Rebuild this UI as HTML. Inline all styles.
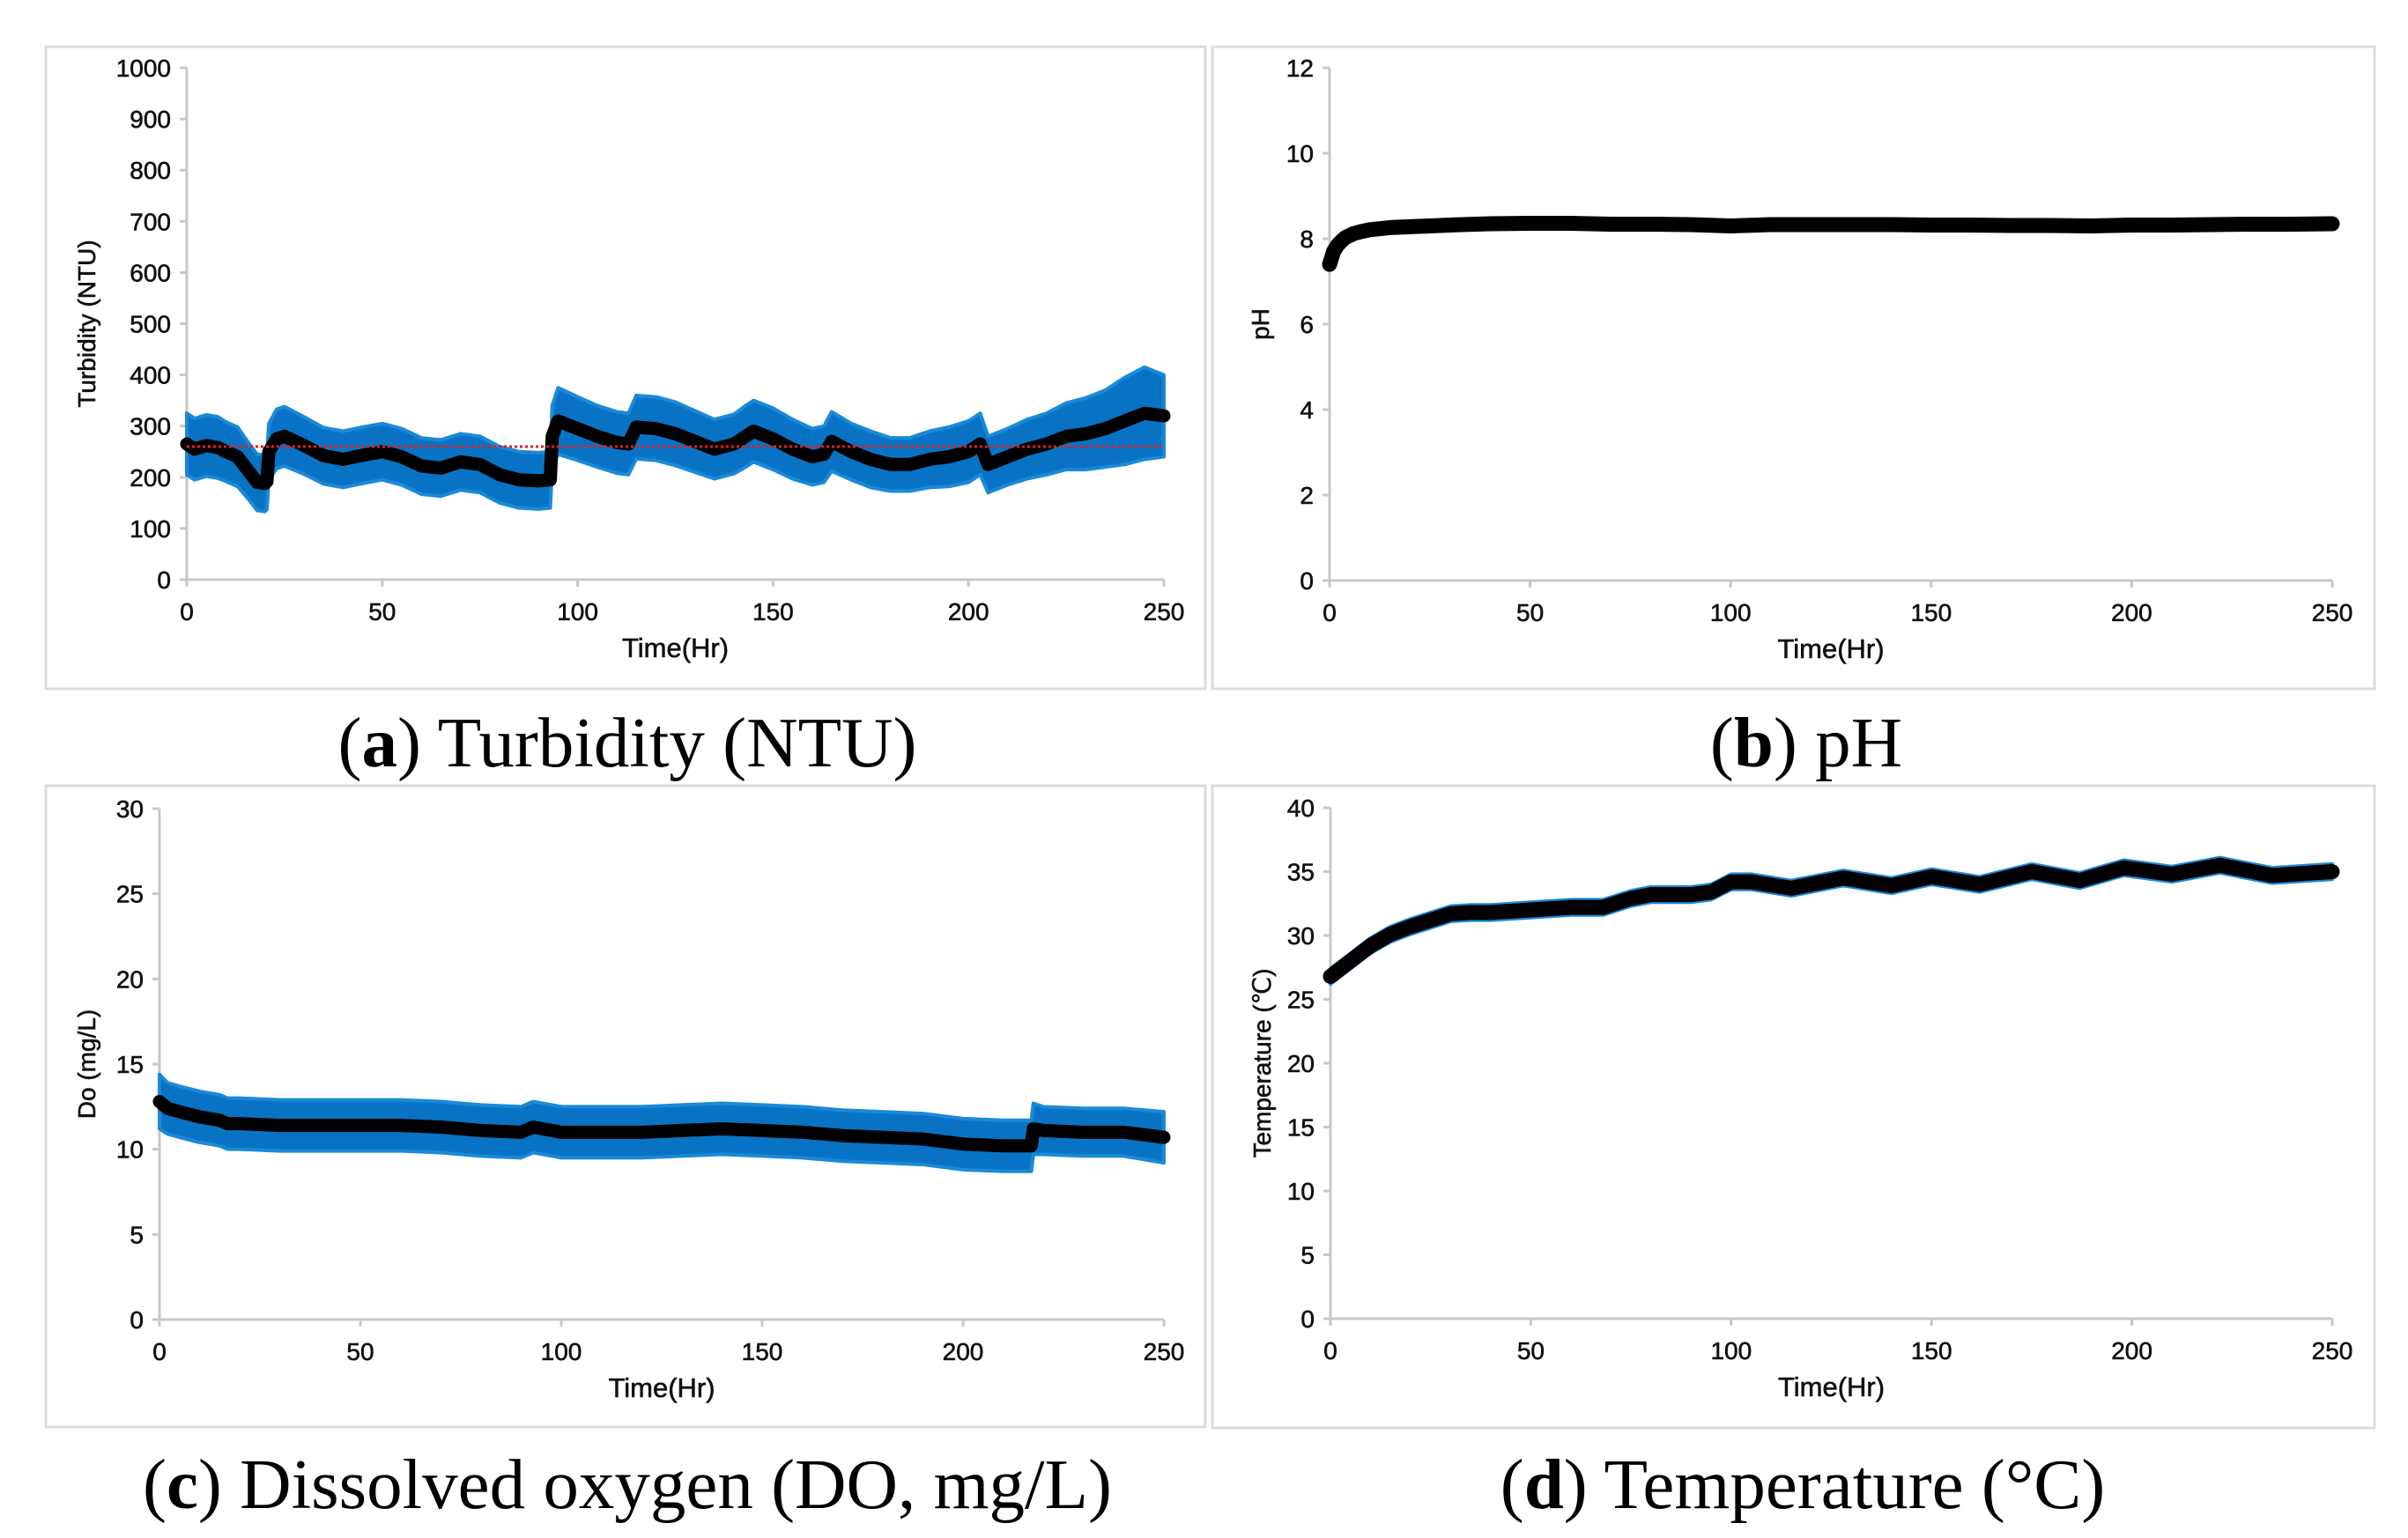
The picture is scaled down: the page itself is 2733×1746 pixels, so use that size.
<!DOCTYPE html>
<html><head><meta charset="utf-8">
<style>
html,body{margin:0;padding:0;background:#fff;}
body{width:2733px;height:1746px;overflow:hidden;position:relative;}
svg{position:absolute;left:0;top:0;}
</style></head>
<body>
<svg id="fig" width="2733" height="1746" viewBox="0 0 2733 1746" xmlns="http://www.w3.org/2000/svg"></svg>
<script>
// Turbidity
const turbT = [0,2,5,8,10,13,16,18,20,20.5,21,23,25,30,35,40,45,50,55,60,65,70,75,80,85,90,93,93.5,95,100,105,110,113,115,120,125,130,135,140,143,145,150,155,160,163,165,170,175,180,185,190,195,200,203,205,210,215,220,225,230,235,240,245,250];
const turbV = [265,255,262,258,250,240,210,190,188,192,250,275,280,262,242,235,243,250,240,222,218,230,225,205,195,193,195,280,310,295,280,268,265,298,295,285,270,255,265,280,290,275,255,240,245,270,250,235,225,225,235,240,250,265,225,240,255,265,280,285,295,310,325,320];
const turbE = [60,60,60,60,58,58,55,55,55,55,55,58,58,56,55,55,55,55,55,55,55,55,55,55,55,55,55,60,65,62,60,60,60,62,62,62,60,58,58,60,60,60,58,55,55,58,55,55,52,52,55,58,60,60,55,55,58,60,65,70,75,85,90,80];
const turbRef = [260];
const turbTicks = [0,100,200,300,400,500,600,700,800,900,1000];
// pH
const phT = [0,0.5,1,2,3,4,6,8,10,15,20,25,30,40,50,60,70,80,90,100,110,120,130,140,150,160,170,180,190,200,210,220,230,240,250];
const phV = [7.4,7.55,7.7,7.85,7.95,8.03,8.12,8.17,8.21,8.26,8.28,8.3,8.32,8.35,8.36,8.36,8.34,8.34,8.33,8.3,8.33,8.33,8.33,8.33,8.32,8.32,8.31,8.31,8.3,8.32,8.32,8.33,8.34,8.34,8.35];
const phTicks = [0,2,4,6,8,10,12];
// DO
const doT = [0,2,5,10,15,17,20,30,40,50,60,70,80,90,93,100,110,120,130,140,150,160,170,180,190,200,210,217,217.5,220,230,240,250];
const doV = [12.8,12.4,12.2,11.9,11.7,11.5,11.5,11.4,11.4,11.4,11.4,11.3,11.1,11.0,11.3,11.0,11.0,11.0,11.1,11.2,11.1,11.0,10.8,10.7,10.6,10.3,10.2,10.2,11.2,11.1,11.0,11.0,10.7];
const doE = [1.6,1.5,1.5,1.5,1.5,1.5,1.5,1.5,1.5,1.5,1.5,1.5,1.5,1.5,1.5,1.5,1.5,1.5,1.5,1.5,1.5,1.5,1.5,1.5,1.5,1.5,1.5,1.5,1.5,1.4,1.4,1.4,1.5];
const doTicks = [0,5,10,15,20,25,30];
// Temperature
const tmpT = [0,5,10,15,20,25,30,35,40,50,60,68,75,80,90,95,100,105,115,128,140,150,162,175,187,198,210,222,235,250];
const tmpV = [26.8,28.0,29.2,30.1,30.7,31.2,31.7,31.8,31.8,32.0,32.2,32.2,32.9,33.2,33.2,33.4,34.2,34.2,33.7,34.5,33.9,34.6,34.0,35.0,34.3,35.3,34.8,35.5,34.7,35.0];
const tmpE = [0.6,0.6,0.6,0.6,0.6,0.6,0.6,0.6,0.6,0.6,0.6,0.6,0.6,0.6,0.6,0.6,0.6,0.6,0.6,0.6,0.6,0.6,0.6,0.6,0.6,0.6,0.6,0.6,0.6,0.6];
const tmpTicks = [0,5,10,15,20,25,30,35,40];
const xTicks = [0,50,100,150,200,250];

const NS='http://www.w3.org/2000/svg';
const svg=document.getElementById('fig');
function mk(tag,attrs,parent){const e=document.createElementNS(NS,tag);for(const k in attrs)e.setAttribute(k,attrs[k]);(parent||svg).appendChild(e);return e;}

function panel(cfg){
  const g=mk('g',{});
  
  
  const fr=mk('rect',{x:cfg.fx,y:cfg.fy,width:cfg.fw,height:cfg.fh,fill:'#fff',stroke:'#dcdcdc','stroke-width':3},g);
  
  
  const X=v=>cfg.x0+(v-0)/(250-0)*(cfg.x1-cfg.x0);
  const Y=v=>cfg.y0-(v-cfg.ymin)/(cfg.ymax-cfg.ymin)*(cfg.y0-cfg.y1);
  const ya=mk('line',{x1:cfg.x0,y1:Y(cfg.ymax),x2:cfg.x0,y2:cfg.y0,stroke:'#c8c8c8','stroke-width':3},g);
  
  
  const xa=mk('line',{x1:cfg.x0,y1:cfg.y0,x2:cfg.x1,y2:cfg.y0,stroke:'#c8c8c8','stroke-width':3},g);
  
  
  cfg.yt.forEach(v=>{
    mk('line',{x1:cfg.x0-8,y1:Y(v),x2:cfg.x0,y2:Y(v),stroke:'#c8c8c8','stroke-width':3},g);
    const t=mk('text',{x:cfg.x0-18,y:Y(v)+10,'text-anchor':'end','font-family':'Liberation Sans Narrow, Liberation Sans, sans-serif','font-size':28,fill:'#111','stroke':'#111','stroke-width':0.6},g);
    t.textContent=v;
    
    
  });
  xTicks.forEach(v=>{
    mk('line',{x1:X(v),y1:cfg.y0,x2:X(v),y2:cfg.y0+8,stroke:'#c8c8c8','stroke-width':3},g);
    const t=mk('text',{x:X(v),y:cfg.y0+46,'text-anchor':'middle','font-family':'Liberation Sans Narrow, Liberation Sans, sans-serif','font-size':28,fill:'#111','stroke':'#111','stroke-width':0.6},g);
    t.textContent=v;
    
    
  });
  const xt=mk('text',{x:(cfg.x0+cfg.x1)/2,y:cfg.y0+88,'text-anchor':'middle','font-family':'Liberation Sans Narrow, Liberation Sans, sans-serif','font-size':31,fill:'#111','stroke':'#111','stroke-width':0.6},g);
  xt.textContent='Time(Hr)';
  
  
  const yc=(Y(cfg.ymax)+cfg.y0)/2;
  const ytl=mk('text',{x:cfg.ytx,y:yc,'text-anchor':'middle','font-family':'Liberation Sans, sans-serif','font-size':28,fill:'#111','stroke':'#111','stroke-width':0.6,transform:`rotate(-90 ${cfg.ytx} ${yc})`},g);
  ytl.textContent=cfg.ytitle;
  
  
  if(cfg.e){
    let up=cfg.t.map((t,i)=>X(t)+','+Y(cfg.v[i]+cfg.e[i]));
    let dn=cfg.t.map((t,i)=>X(t)+','+Y(cfg.v[i]-cfg.e[i])).reverse();
    const band=mk('polygon',{points:up.concat(dn).join(' '),fill:'#0873c4',stroke:'#1a8ad8','stroke-width':4,'stroke-linejoin':'round'},g);
    
    
  }
  const ln=mk('polyline',{points:cfg.t.map((t,i)=>X(t)+','+Y(cfg.v[i])).join(' '),fill:'none',stroke:'#000','stroke-width':cfg.sw||15,'stroke-linejoin':'round','stroke-linecap':'round'},g);
  
  
  if(cfg.ref){
    const r=mk('line',{x1:cfg.x0,y1:Y(cfg.ref[0]),x2:cfg.x1,y2:Y(cfg.ref[0]),stroke:'#e02020','stroke-width':3,'stroke-dasharray':'3 3'},g);
    
    
  }
  const cap=mk('text',{x:cfg.cx,y:cfg.cy,'text-anchor':'middle','font-family':'Liberation Serif, serif','font-size':81,fill:'#000'},g);
  cap.innerHTML=cfg.caption;
  
  
}

panel({name:'turbidity-panel',fx:52,fy:53,fw:1316,fh:729,x0:212,x1:1321,y0:658,y1:77,ymin:0,ymax:1000,yt:turbTicks,ytx:108,ytitle:'Turbidity (NTU)',t:turbT,v:turbV,e:turbE,ref:turbRef,cx:712,cy:870,caption:'(<tspan font-weight="bold">a</tspan>) Turbidity (NTU)'});
panel({name:'ph-panel',fx:1376,fy:53,fw:1319,fh:729,x0:1509,x1:2647,y0:659,y1:77,ymin:0,ymax:12,yt:phTicks,ytx:1440,ytitle:'pH',t:phT,v:phV,sw:17,cx:2050,cy:870,caption:'(<tspan font-weight="bold">b</tspan>) pH'});
panel({name:'do-panel',fx:52,fy:892,fw:1316,fh:728,x0:181,x1:1321,y0:1498,y1:918,ymin:0,ymax:30,yt:doTicks,ytx:108,ytitle:'Do (mg/L)',t:doT,v:doV,e:doE,cx:712,cy:1712,caption:'(<tspan font-weight="bold">c</tspan>) Dissolved oxygen (DO, mg/L)'});
panel({name:'temperature-panel',fx:1376,fy:892,fw:1319,fh:729,x0:1510,x1:2647,y0:1497,y1:917,ymin:0,ymax:40,yt:tmpTicks,ytx:1442,ytitle:'Temperature (℃)',t:tmpT,v:tmpV,e:tmpE,sw:17,cx:2046,cy:1712,caption:'(<tspan font-weight="bold">d</tspan>) Temperature (°C)'});
</script>
</body></html>
